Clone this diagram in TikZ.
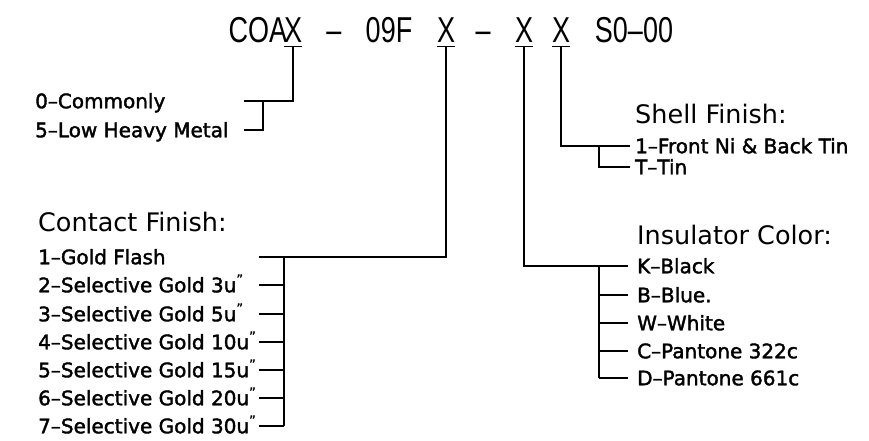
\documentclass[tikz,border=0pt]{standalone}
\usepackage{fontspec}
\setmainfont[Ligatures=TeX]{DejaVu Sans}
\newfontfamily\codefont[Ligatures=TeX,FakeStretch=0.75]{Liberation Sans}
\newfontfamily\itemfont[Ligatures=TeX,FakeBold=1.8]{DejaVu Sans}
\newcommand{\uin}{\raisebox{0.42em}{\fontsize{13}{13}\selectfont"}}
\usetikzlibrary{positioning}

\begin{document}
\begin{tikzpicture}[x=1pt,y=-1pt]
\tikzset{
  code/.style={anchor=base,inner sep=0pt,font=\codefont\fontsize{36}{36}\selectfont},
  heading/.style={anchor=west,inner sep=0pt,text height=18.5pt,text depth=0pt,font=\fontsize{25.5}{26}\selectfont},
  option/.style={anchor=west,inner sep=0pt,text height=14.5pt,text depth=0pt,font=\itemfont\fontsize{20}{20}\selectfont},
  lead/.style={line width=1.8pt}
}
\useasboundingbox (0,0) rectangle (869,440);

% part number
\node[code] (t_COA) at (258,42) {COA};
\node[code] (t_X1) at (293,42) {X};
\node[code] (t_dA) at (334,42) {--};
\node[code] (t_09F) at (389,42) {09F};
\node[code] (t_X2) at (446,42) {X};
\node[code] (t_dB) at (483,42) {--};
\node[code] (t_X3) at (524,42) {X};
\node[code] (t_X4) at (561,42) {X};
\node[code] (t_S0) at (634,42) {S0--00};
\foreach \k in {1,...,4} {
  \coordinate (u_X\k) at ([yshift=-4.5pt]t_X\k.base);
  \draw[lead] ([xshift=-9pt]u_X\k) -- ([xshift=9pt]u_X\k);
}

% bracket columns
\coordinate (stubA) at (244,0);
\coordinate (brkA) at (263,0);
\coordinate (stubB) at (259,0);
\coordinate (brkB) at (284,0);
\coordinate (brkC) at (599,0);

% base metal
\node[option] (o_0) at (35,101) {0--Commonly};
\node[option] (o_5) at (35,130) {5--Low Heavy Metal};
\draw[lead] (u_X1) |- (o_0.west -| stubA);
\draw[lead] (o_0.west -| brkA) |- (o_5.west -| stubA);

% contact finish
\node[heading] (h_contact) at (38,222) {Contact Finish:};
\node[option] (c_1) at (38,257) {1--Gold Flash};
\node[option] (c_2) at (38,285) {2--Selective Gold 3u\uin};
\node[option] (c_3) at (38,314) {3--Selective Gold 5u\uin};
\node[option] (c_4) at (38,342) {4--Selective Gold 10u\uin};
\node[option] (c_5) at (38,370) {5--Selective Gold 15u\uin};
\node[option] (c_6) at (38,398) {6--Selective Gold 20u\uin};
\node[option] (c_7) at (38,426) {7--Selective Gold 30u\uin};
\draw[lead] (u_X2) |- (c_1.west -| stubB);
\draw[lead] (c_1.west -| brkB) -- (c_7.west -| brkB);
\foreach \i in {2,...,7}
  \draw[lead] (c_\i.west -| stubB) -- (c_\i.west -| brkB);

% shell finish
\node[heading] (h_shell) at (635,114) {Shell Finish:};
\node[option] (s_1) at (635,146) {1--Front Ni \& Back Tin};
\node[option] (s_T) at (635,167) {T--Tin};
\draw[lead] (u_X4) |- ([xshift=-5pt]s_1.west);
\draw[lead] (s_1.west -| brkC) |- ([xshift=-5pt]s_T.west);

% insulator color
\node[heading] (h_insul) at (637,235) {Insulator Color:};
\node[option] (i_K) at (637,266) {K--Black};
\node[option] (i_B) at (637,295) {B--Blue.};
\node[option] (i_W) at (637,323) {W--White};
\node[option] (i_C) at (637,351) {C--Pantone 322c};
\node[option] (i_D) at (637,378) {D--Pantone 661c};
\draw[lead] (u_X3) |- ([xshift=-9pt]i_K.west);
\draw[lead] (i_K.west -| brkC) -- (i_D.west -| brkC);
\foreach \c in {B,W,C,D}
  \draw[lead] (i_\c.west -| brkC) -- ([xshift=-9pt]i_\c.west);
\end{tikzpicture}
\end{document}
